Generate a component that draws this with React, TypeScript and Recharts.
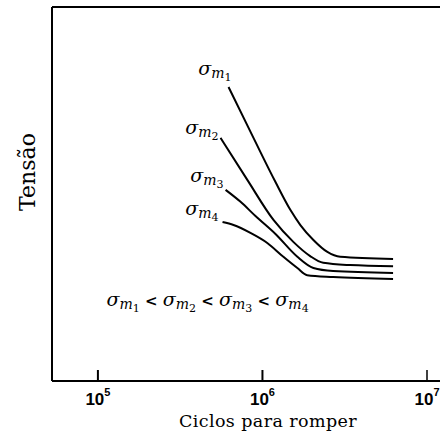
import { LineChart, Line, XAxis, YAxis, ReferenceLine, ReferenceDot } from "recharts";

// S-N curves for increasing mean stress
const cycles1 = [622000, 882000, 1200000, 1480000, 1700000, 2040000, 2480000, 2970000, 6220000];
const stress1 = [78.6, 65.0, 53.2, 45.7, 41.7, 37.7, 34.5, 33.2, 32.6];

const cycles2 = [556000, 811000, 1170000, 1540000, 1950000, 2340000, 3410000, 6220000];
const stress2 = [65.0, 53.7, 43.0, 37.2, 33.4, 31.6, 31.0, 30.7];

const cycles3 = [597000, 736000, 907000, 1200000, 1630000, 2040000, 2690000, 6220000];
const stress3 = [51.1, 47.9, 44.1, 39.3, 33.2, 30.2, 29.4, 28.9];

const cycles4 = [572000, 667000, 845000, 1070000, 1340000, 1630000, 1870000, 2690000, 6220000];
const stress4 = [42.5, 41.7, 39.6, 36.9, 33.2, 30.2, 28.3, 27.8, 27.3];

// x is plotted as log10(cycles)
const xTicks = [5, 6, 7];
const xDomain = [4.721, 7.079];
const yDomain = [0, 100];

const seriesLabels = ["1", "2", "3", "4"];
const inequalityAt = { cycles: 464000, stress: 20 };

const toPoints = (xs: number[], ys: number[]) => xs.map((n, i) => ({ lg: Math.log10(n), s: ys[i] }));

const curves = [
  toPoints(cycles1, stress1),
  toPoints(cycles2, stress2),
  toPoints(cycles3, stress3),
  toPoints(cycles4, stress4),
];

// where each sigma label ends / sits relative to the curve's first point
const labelOffsets = [
  { dx: 3, dy: -12 },
  { dx: -2, dy: -4 },
  { dx: -2, dy: -8 },
  { dx: -4, dy: -7 },
];

const SERIF = "'DejaVu Serif', serif";
const INK = "#000";

function sigmaSpans(sub: string, key: string, resetDy: number) {
  return [
    <tspan key={key + "s"} dy={resetDy} fontSize={19} fontStyle="italic">σ</tspan>,
    <tspan key={key + "m"} dy={3} fontSize={14} fontStyle="italic">m</tspan>,
    <tspan key={key + "n"} dy={3} fontSize={11}>{sub}</tspan>,
  ];
}

function SigmaLabel({ cx, cy, idx }: { cx?: number; cy?: number; idx: number }) {
  if (cx == null || cy == null) return null;
  const off = labelOffsets[idx];
  return (
    <text x={cx + off.dx} y={cy + off.dy} textAnchor="end" fontFamily={SERIF} fill={INK}>
      {sigmaSpans(seriesLabels[idx], "l" + idx, 0)}
    </text>
  );
}

function Inequality({ cx, cy }: { cx?: number; cy?: number }) {
  if (cx == null || cy == null) return null;
  const parts: any[] = [];
  seriesLabels.forEach((s, i) => {
    parts.push(...sigmaSpans(s, "q" + i, 0));
    if (i < seriesLabels.length - 1) {
      parts.push(
        <tspan key={"lt" + i} dy={-6} fontSize={15} fontWeight="bold">{" < "}</tspan>
      );
    }
  });
  return (
    <text x={cx} y={cy} textAnchor="middle" fontFamily={SERIF} fill={INK}>
      {parts}
    </text>
  );
}

function PowerTick({ x, y, payload }: any) {
  const exp = Math.round(payload.value);
  return (
    <g>
      <line x1={x} y1={y - 11} x2={x} y2={y} stroke={INK} strokeWidth={exp === 7 ? 1.5 : 2} />
      <text
        x={x}
        y={y + 24}
        textAnchor="middle"
        fontFamily="'Liberation Sans', Arial, sans-serif"
        fontWeight="bold"
        fill={INK}
      >
        <tspan fontSize={17}>10</tspan>
        <tspan fontSize={11} dy={-9}>{exp}</tspan>
      </text>
    </g>
  );
}

export default function App() {
  return (
    <div style={{ position: "absolute", left: 0, top: 0, width: 440, height: 437, background: "#fff" }}>
      <LineChart width={440} height={437} margin={{ top: 7, right: 0, bottom: 0, left: 0 }}>
        <XAxis
          dataKey="lg"
          type="number"
          domain={xDomain}
          allowDataOverflow
          ticks={xTicks}
          interval={0}
          tickSize={0}
          tickMargin={0}
          tickLine={false}
          tick={<PowerTick />}
          height={56}
          axisLine={{ stroke: INK, strokeWidth: 2 }}
          label={{
            content: ({ viewBox }: any) => (
              <text
                x={viewBox.x + 216}
                y={viewBox.y + 46}
                textAnchor="middle"
                fontFamily={SERIF}
                fontSize={17.5}
                letterSpacing={0.4}
                fill={INK}
              >
                Ciclos para romper
              </text>
            ),
          }}
        />
        <YAxis
          dataKey="s"
          type="number"
          domain={yDomain}
          width={52}
          tick={false}
          tickLine={false}
          axisLine={{ stroke: INK, strokeWidth: 2 }}
          label={{
            content: () => (
              <text
                x={35}
                y={172}
                transform="rotate(-90 35 172)"
                textAnchor="middle"
                fontFamily={SERIF}
                fontSize={22}
                fill={INK}
              >
                Tensão
              </text>
            ),
          }}
        />
        <ReferenceLine y={100} stroke={INK} strokeWidth={2} />
        {curves.map((pts, i) => (
          <Line
            key={"c" + i}
            data={pts}
            dataKey="s"
            type="monotoneX"
            stroke={INK}
            strokeWidth={2}
            dot={false}
            activeDot={false}
            isAnimationActive={false}
          />
        ))}
        {curves.map((pts, i) => (
          <ReferenceDot
            key={"d" + i}
            x={pts[0].lg}
            y={pts[0].s}
            r={0}
            shape={(p: any) => <SigmaLabel cx={p.cx} cy={p.cy} idx={i} />}
          />
        ))}
        <ReferenceDot
          x={Math.log10(inequalityAt.cycles)}
          y={inequalityAt.stress}
          r={0}
          shape={(p: any) => <Inequality cx={p.cx} cy={p.cy} />}
        />
      </LineChart>
    </div>
  );
}
